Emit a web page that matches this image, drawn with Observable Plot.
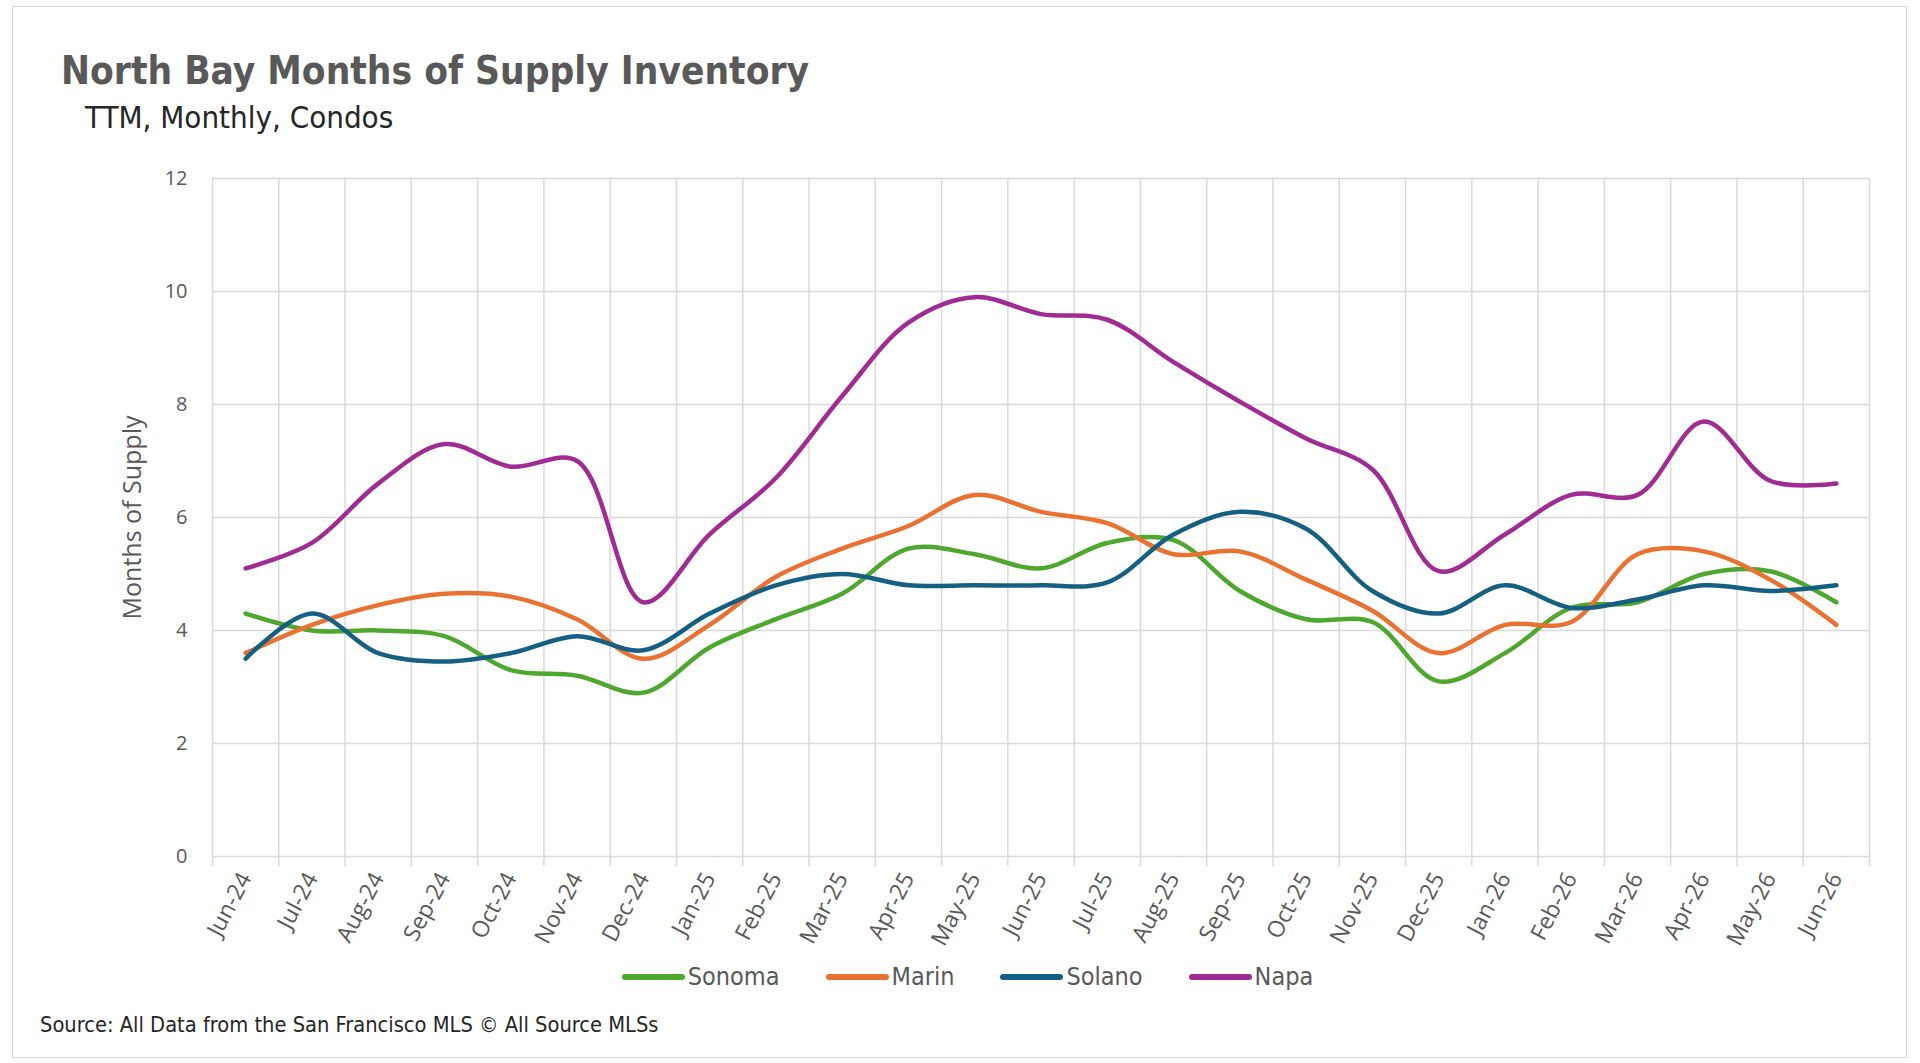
<!DOCTYPE html>
<html>
<head>
<meta charset="utf-8">
<script src="https://cdn.jsdelivr.net/npm/d3@7"></script>
<script src="https://cdn.jsdelivr.net/npm/@observablehq/plot@0.6"></script>
<style>
  html, body { margin: 0; padding: 0; background: #fff; }
  #page { position: relative; width: 1920px; height: 1063px; overflow: hidden; background: #fff; }
  #frame { position: absolute; left: 12px; top: 6px; width: 1895px; height: 1052px; border: 1.5px solid #d9d9d9; box-sizing: border-box; }
  .narrow { font-family: "Liberation Sans Narrow", "DejaVu Sans Condensed", "Roboto Condensed", sans-serif; font-stretch: condensed; }
  #title { position: absolute; left: 61px; top: 52px; font-size: 38.5px; font-weight: bold; color: #595959; white-space: nowrap; line-height: 1; }
  #subtitle { position: absolute; left: 85px; top: 102px; font-size: 31px; color: #262626; white-space: nowrap; line-height: 1; }
  #chart { position: absolute; left: 0; top: 0; }
  #legend { position: absolute; left: 0; width: 1935px; top: 962px; display: flex; justify-content: center; gap: 46px; font-size: 25px; color: #595959; }
  .item { display: flex; align-items: center; gap: 3px; }
  .sw { width: 63px; height: 6px; border-radius: 3px; }
  #caption { position: absolute; left: 40px; top: 1014px; font-size: 21.7px; color: #262626; white-space: nowrap; line-height: 1; }
</style>
</head>
<body>
<div id="page">
  <div id="frame"></div>
  <div id="chart"></div>
  <div id="title" class="narrow">North Bay Months of Supply Inventory</div>
  <div id="subtitle" class="narrow">TTM, Monthly, Condos</div>
  <div id="legend" class="narrow"></div>
  <div id="caption" class="narrow">Source: All Data from the San Francisco MLS © All Source MLSs</div>
</div>
<script>
const months = ["Jun-24","Jul-24","Aug-24","Sep-24","Oct-24","Nov-24","Dec-24","Jan-25","Feb-25","Mar-25","Apr-25","May-25","Jun-25","Jul-25","Aug-25","Sep-25","Oct-25","Nov-25","Dec-25","Jan-26","Feb-26","Mar-26","Apr-26","May-26","Jun-26"];
const sonoma = [4.3, 4.0, 4.0, 3.9, 3.3, 3.2, 2.9, 3.7, 4.2, 4.65, 5.45, 5.35, 5.1, 5.55, 5.6, 4.7, 4.2, 4.15, 3.1, 3.6, 4.4, 4.5, 5.0, 5.05, 4.5];
const marin  = [3.6, 4.1, 4.45, 4.65, 4.6, 4.2, 3.5, 4.1, 4.95, 5.45, 5.85, 6.4, 6.1, 5.9, 5.35, 5.4, 4.9, 4.35, 3.6, 4.1, 4.15, 5.35, 5.4, 4.9, 4.1];
const solano = [3.5, 4.3, 3.6, 3.45, 3.6, 3.9, 3.65, 4.3, 4.8, 5.0, 4.8, 4.8, 4.8, 4.85, 5.7, 6.1, 5.8, 4.7, 4.3, 4.8, 4.4, 4.55, 4.8, 4.7, 4.8];
const napa   = [5.1, 5.55, 6.6, 7.3, 6.9, 7.0, 4.5, 5.7, 6.7, 8.15, 9.45, 9.9, 9.6, 9.5, 8.75, 8.05, 7.4, 6.85, 5.05, 5.7, 6.4, 6.4, 7.7, 6.65, 6.6];
const seriesNames = ["Sonoma", "Marin", "Solano", "Napa"];
const seriesColors = ["#4ea72e", "#e97132", "#156082", "#a02b93"];
const yTicks = [0, 2, 4, 6, 8, 10, 12];
const yLabel = "Months of Supply";

const rows = [];
[sonoma, marin, solano, napa].forEach((vals, s) =>
  vals.forEach((v, i) => rows.push({series: seriesNames[s], i, month: months[i], value: v})));
const idx = d3.range(months.length);
const bounds = d3.range(months.length + 1).map(i => i - 0.5);

const chart = Plot.plot({
  width: 1920,
  height: 960,
  marginLeft: 212,
  marginRight: 51,
  marginTop: 178,
  marginBottom: 104,
  style: {background: "transparent", fontFamily: "'Open Sans', sans-serif", color: "#595959"},
  x: {type: "linear", domain: [-0.5, months.length - 0.5]},
  y: {domain: [yTicks[0], yTicks[yTicks.length - 1]]},
  color: {domain: seriesNames, range: seriesColors},
  marks: [
    Plot.ruleY(yTicks, {stroke: "#d9d9d9", strokeWidth: 1.5}),
    Plot.ruleX(bounds, {y1: yTicks[0], y2: yTicks[yTicks.length - 1], stroke: "#d9d9d9", strokeWidth: 1.5}),
    Plot.axisX({ticks: bounds, tickSize: 10, tickFormat: () => "", stroke: "#d9d9d9", strokeWidth: 1.5, label: null}),
    Plot.axisX({ticks: idx, tickSize: 0, tickPadding: 18, tickRotate: -62, tickFormat: i => months[i], fontSize: 23, fill: "#595959", label: null}),
    Plot.axisY({ticks: yTicks, tickSize: 0, tickPadding: 25, fontSize: 20, fill: "#595959", label: null}),
    Plot.text([yLabel], {frameAnchor: "left", textAnchor: "middle", dx: -80, rotate: -90, fontSize: 25, fill: "#595959"}),
    Plot.line(rows, {x: "i", y: "value", z: "series", stroke: "series", strokeWidth: 4.5, curve: "catmull-rom", strokeLinecap: "round"})
  ]
});
document.getElementById("chart").appendChild(chart);

const legend = document.getElementById("legend");
seriesNames.forEach((name, k) => {
  const item = document.createElement("div");
  item.className = "item";
  const sw = document.createElement("div");
  sw.className = "sw";
  sw.style.background = seriesColors[k];
  const t = document.createElement("span");
  t.textContent = name;
  item.appendChild(sw);
  item.appendChild(t);
  legend.appendChild(item);
});
</script>
</body>
</html>
